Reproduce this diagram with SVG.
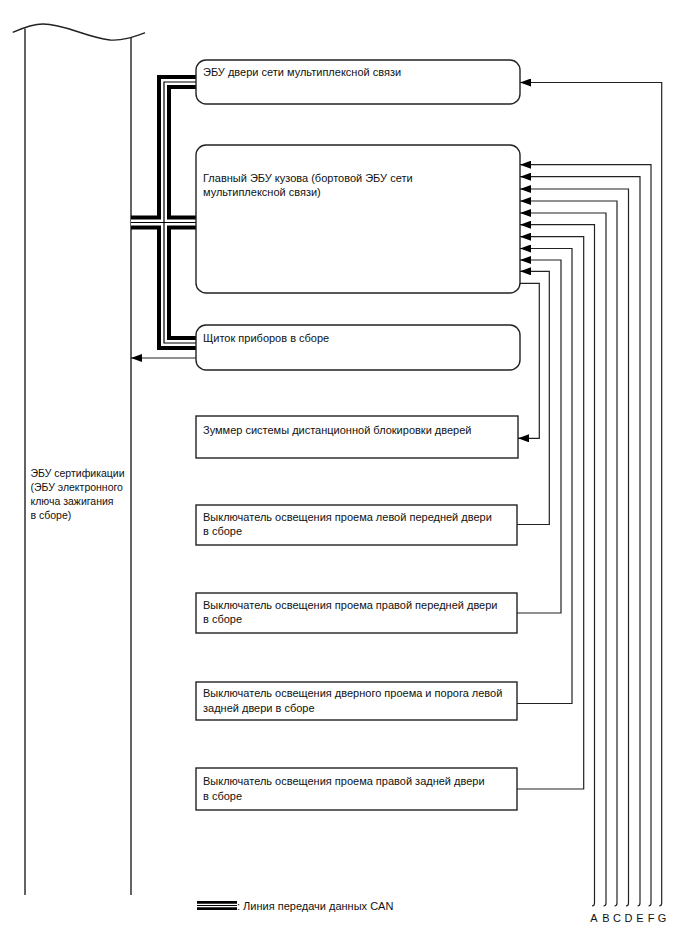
<svg xmlns="http://www.w3.org/2000/svg" width="688" height="949" viewBox="0 0 688 949">
<style>
text{font-family:"Liberation Sans",Arial,sans-serif;font-size:11px;fill:#111}
.small{font-size:10.5px}
.box{fill:#fff;stroke:#222;stroke-width:1.4}
.wire{fill:none;stroke:#222;stroke-width:1.2}
.ecu{fill:none;stroke:#222;stroke-width:1.4}
.canA{fill:none;stroke:#000;stroke-width:14;stroke-linejoin:miter}
.canB{fill:none;stroke:#fff;stroke-width:6;stroke-linejoin:miter}
.canC{fill:none;stroke:#000;stroke-width:1.2;stroke-linejoin:miter}
.lbl{font-size:11px;text-anchor:middle}
</style>
<defs>
<marker id="arr" markerUnits="userSpaceOnUse" markerWidth="12" markerHeight="8" refX="11" refY="4" orient="auto">
<path d="M0,0 L11,4 L0,8 z" fill="#000"/>
</marker>
</defs>
<g id="ecu-cert">
<path class="ecu" d="M12.7,32.3 C25,27 34,24 43,24 C65,24 85,37 110,40 C122,41 133,37 145,32.7"/>
<path class="ecu" d="M25,28.5 V895 M131,37.5 V895"/>
<text class="small" x="30.5" y="477">ЭБУ сертификации</text>
<text class="small" x="30.5" y="491">(ЭБУ электронного</text>
<text class="small" x="30.5" y="505">ключа зажигания</text>
<text class="small" x="30.5" y="519">в сборе)</text>
</g>
<g id="can-bus">
<path class="canA" d="M196,82 H164 V343 H196 M131,222.5 H196"/>
<path class="canB" d="M196,82 H164 V343 H196 M131,222.5 H196"/>
<path class="canC" d="M196,82 H164 V343 H196 M131,222.5 H196"/>
</g>
<g id="door-ecu">
<rect class="box" x="196" y="60" width="324" height="44" rx="10"/>
<text x="203" y="76">ЭБУ двери сети мультиплексной связи</text>
</g>
<g id="main-body-ecu">
<rect class="box" x="196" y="145" width="324" height="148" rx="10"/>
<text x="203" y="182">Главный ЭБУ кузова (бортовой ЭБУ сети</text>
<text x="203" y="196">мультиплексной связи)</text>
</g>
<g id="combination-meter">
<rect class="box" x="196" y="325" width="324" height="45" rx="10"/>
<text x="203" y="342">Щиток приборов в сборе</text>
</g>
<g id="buzzer">
<rect class="box" x="196" y="416" width="322" height="42"/>
<text x="203" y="434">Зуммер системы дистанционной блокировки дверей</text>
</g>
<g id="sw-lf">
<rect class="box" x="196" y="505" width="321" height="40"/>
<text x="203" y="521">Выключатель освещения проема левой передней двери</text>
<text x="203" y="535">в сборе</text>
</g>
<g id="sw-rf">
<rect class="box" x="196" y="593" width="321" height="40"/>
<text x="203" y="609">Выключатель освещения проема правой передней двери</text>
<text x="203" y="623">в сборе</text>
</g>
<g id="sw-lr">
<rect class="box" x="196" y="682" width="321" height="38"/>
<text x="203" y="697">Выключатель освещения дверного проема и порога левой</text>
<text x="203" y="712">задней двери в сборе</text>
</g>
<g id="sw-rr">
<rect class="box" x="196" y="768" width="321" height="42"/>
<text x="203" y="785">Выключатель освещения проема правой задней двери</text>
<text x="203" y="800">в сборе</text>
</g>
<g id="connectors">
<path class="wire" marker-end="url(#arr)" d="M661.7,903 V82.5 H520"/>
<path class="wire" marker-end="url(#arr)" d="M651,903 V164.7 H520"/>
<path class="wire" marker-end="url(#arr)" d="M640,903 V176.7 H520"/>
<path class="wire" marker-end="url(#arr)" d="M628.5,903 V189 H520"/>
<path class="wire" marker-end="url(#arr)" d="M617,903 V201 H520"/>
<path class="wire" marker-end="url(#arr)" d="M606,903 V213 H520"/>
<path class="wire" marker-end="url(#arr)" d="M594.5,903 V224.7 H520"/>
<path class="wire" marker-end="url(#arr)" d="M517,789 H583.7 V236.7 H520"/>
<path class="wire" marker-end="url(#arr)" d="M517,703.5 H572 V248.5 H520"/>
<path class="wire" marker-end="url(#arr)" d="M517,613 H561 V260 H520"/>
<path class="wire" marker-end="url(#arr)" d="M517,524.5 H549.3 V271.3 H520"/>
<path class="wire" marker-end="url(#arr)" d="M520,283.3 H539.3 V438.3 H518"/>
<path class="wire" marker-end="url(#arr)" d="M196,358 H131"/>
<path class="wire" d="M661.7,903 q0,3 -2.5,3 M651,903 q0,3 -2.5,3 M640,903 q0,3 -2.5,3 M628.5,903 q0,3 -2.5,3 M617,903 q0,3 -2.5,3 M606,903 q0,3 -2.5,3 M594.5,903 q0,3 -2.5,3"/>
</g>
<g id="terminal-labels">
<text class="lbl" x="594" y="922">A</text>
<text class="lbl" x="606" y="922">B</text>
<text class="lbl" x="617" y="922">C</text>
<text class="lbl" x="628.5" y="922">D</text>
<text class="lbl" x="640" y="922">E</text>
<text class="lbl" x="651" y="922">F</text>
<text class="lbl" x="662" y="922">G</text>
</g>
<g id="legend">
<path d="M197,905.5 H237" fill="none" stroke="#000" stroke-width="9"/>
<path d="M197,905.5 H237" fill="none" stroke="#fff" stroke-width="3.5"/>
<path d="M197,905.5 H237" fill="none" stroke="#000" stroke-width="1"/>
<text x="237" y="910">: Линия передачи данных CAN</text>
</g>
</svg>
